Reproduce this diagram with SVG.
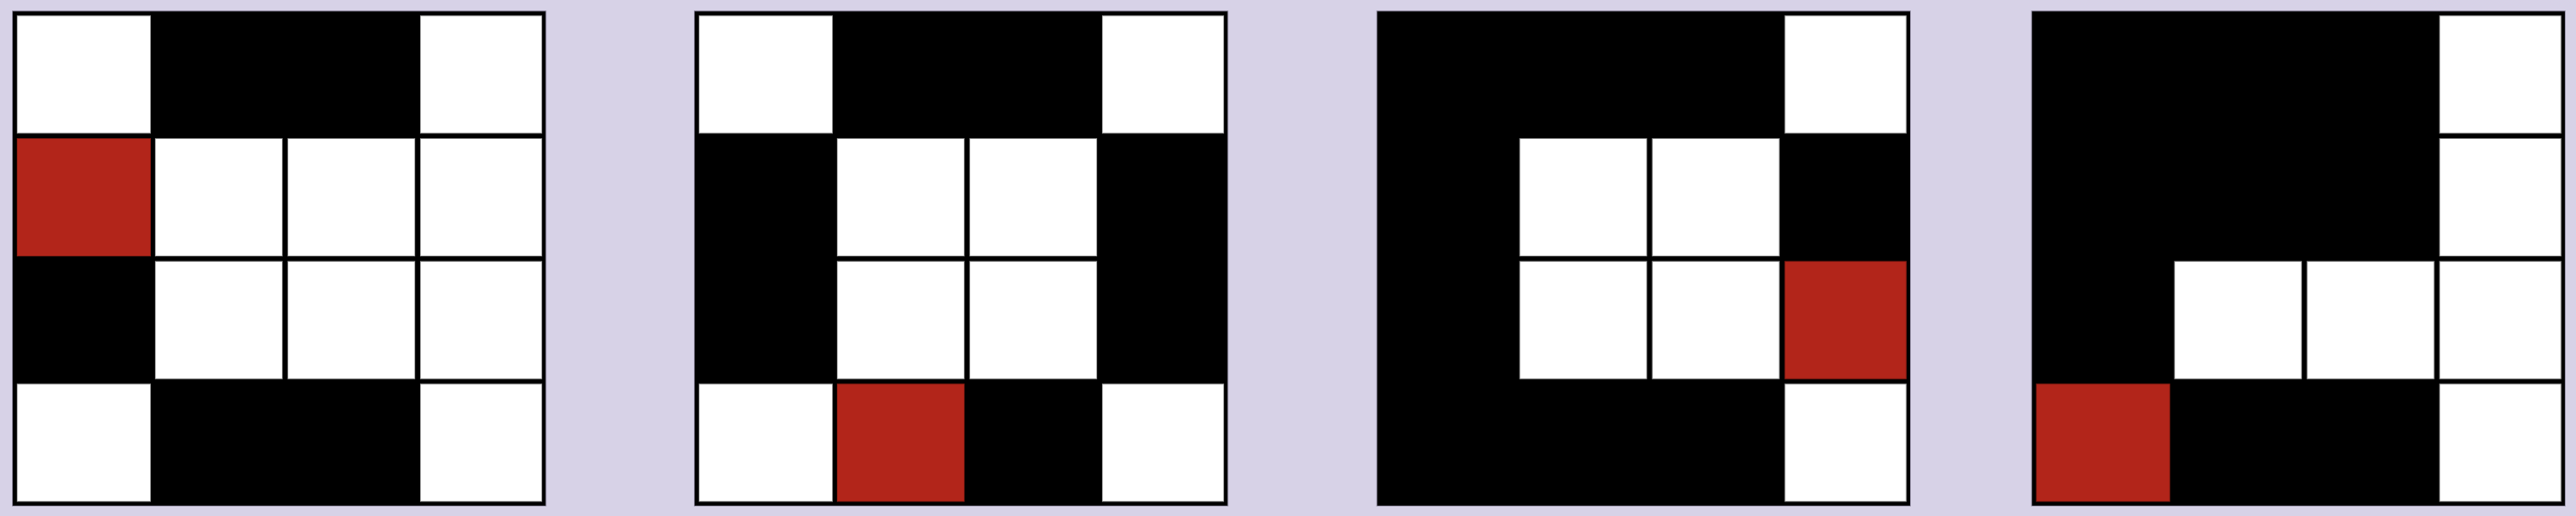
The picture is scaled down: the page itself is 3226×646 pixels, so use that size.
<svg xmlns="http://www.w3.org/2000/svg" width="3226" height="646" viewBox="0 0 3226 646">
<style>
.bg{fill:#d7d2e7}
.frame{fill:#000;stroke:#8f8aa0;stroke-width:1}
.w{fill:#fff;stroke:#8c8c8c;stroke-width:1}
.b{fill:#000}
.r{fill:#b2251a;stroke:#7e1a12;stroke-width:1}
</style>
<defs>
<rect id="frame" class="frame" x="15.5" y="13.8" width="668.3" height="619.7"/>
</defs>
<rect class="bg" x="0" y="0" width="3226" height="646"/>

<g id="grid1">
<use href="#frame"/>
<rect class="w" x="21.5" y="19.8" width="167" height="147"/>
<rect class="b" x="194" y="19.3" width="160" height="148"/>
<rect class="b" x="360" y="19.3" width="160" height="148"/>
<rect class="w" x="526.5" y="19.8" width="152" height="147"/>
<rect class="r" x="21.5" y="173.5" width="167" height="147"/>
<rect class="w" x="194.5" y="173.5" width="159" height="147"/>
<rect class="w" x="360.5" y="173.5" width="159" height="147"/>
<rect class="w" x="526.5" y="173.5" width="152" height="147"/>
<rect class="b" x="21" y="326.7" width="168" height="148"/>
<rect class="w" x="194.5" y="327.2" width="159" height="147"/>
<rect class="w" x="360.5" y="327.2" width="159" height="147"/>
<rect class="w" x="526.5" y="327.2" width="152" height="147"/>
<rect class="w" x="21.5" y="480.8" width="167" height="147"/>
<rect class="b" x="194" y="480.3" width="160" height="148"/>
<rect class="b" x="360" y="480.3" width="160" height="148"/>
<rect class="w" x="526.5" y="480.8" width="152" height="147"/>
</g>

<g id="grid2" transform="translate(854,0)">
<use href="#frame"/>
<rect class="w" x="21.5" y="19.8" width="167" height="147"/>
<rect class="b" x="194" y="19.3" width="160" height="148"/>
<rect class="b" x="360" y="19.3" width="160" height="148"/>
<rect class="w" x="526.5" y="19.8" width="152" height="147"/>
<rect class="b" x="21" y="173.3" width="168" height="148"/>
<rect class="w" x="194.5" y="173.5" width="159" height="147"/>
<rect class="w" x="360.5" y="173.5" width="159" height="147"/>
<rect class="b" x="526" y="173.3" width="153" height="148"/>
<rect class="b" x="21" y="326.7" width="168" height="148"/>
<rect class="w" x="194.5" y="327.2" width="159" height="147"/>
<rect class="w" x="360.5" y="327.2" width="159" height="147"/>
<rect class="b" x="526" y="326.7" width="153" height="148"/>
<rect class="w" x="21.5" y="480.8" width="167" height="147"/>
<rect class="r" x="194.5" y="480.8" width="159" height="147"/>
<rect class="b" x="360" y="480.3" width="160" height="148"/>
<rect class="w" x="526.5" y="480.8" width="152" height="147"/>
</g>

<g id="grid3" transform="translate(1708.7,0)">
<use href="#frame"/>
<rect class="b" x="21" y="19.3" width="168" height="148"/>
<rect class="b" x="194" y="19.3" width="160" height="148"/>
<rect class="b" x="360" y="19.3" width="160" height="148"/>
<rect class="w" x="526.5" y="19.8" width="152" height="147"/>
<rect class="b" x="21" y="173.3" width="168" height="148"/>
<rect class="w" x="194.5" y="173.5" width="159" height="147"/>
<rect class="w" x="360.5" y="173.5" width="159" height="147"/>
<rect class="b" x="526" y="173.3" width="153" height="148"/>
<rect class="b" x="21" y="326.7" width="168" height="148"/>
<rect class="w" x="194.5" y="327.2" width="159" height="147"/>
<rect class="w" x="360.5" y="327.2" width="159" height="147"/>
<rect class="r" x="526.5" y="327.2" width="152" height="147"/>
<rect class="b" x="21" y="480.3" width="168" height="148"/>
<rect class="b" x="194" y="480.3" width="160" height="148"/>
<rect class="b" x="360" y="480.3" width="160" height="148"/>
<rect class="w" x="526.5" y="480.8" width="152" height="147"/>
</g>

<g id="grid4" transform="translate(2528.7,0)">
<use href="#frame"/>
<rect class="b" x="21" y="19.3" width="168" height="148"/>
<rect class="b" x="194" y="19.3" width="160" height="148"/>
<rect class="b" x="360" y="19.3" width="160" height="148"/>
<rect class="w" x="526.5" y="19.8" width="152" height="147"/>
<rect class="b" x="21" y="173.3" width="168" height="148"/>
<rect class="b" x="194" y="173.3" width="160" height="148"/>
<rect class="b" x="360" y="173.3" width="160" height="148"/>
<rect class="w" x="526.5" y="173.5" width="152" height="147"/>
<rect class="b" x="21" y="326.7" width="168" height="148"/>
<rect class="w" x="194.5" y="327.2" width="159" height="147"/>
<rect class="w" x="360.5" y="327.2" width="159" height="147"/>
<rect class="w" x="526.5" y="327.2" width="152" height="147"/>
<rect class="r" x="21.5" y="480.8" width="167" height="147"/>
<rect class="b" x="194" y="480.3" width="160" height="148"/>
<rect class="b" x="360" y="480.3" width="160" height="148"/>
<rect class="w" x="526.5" y="480.8" width="152" height="147"/>
</g>

<g id="connectors"/>
</svg>
